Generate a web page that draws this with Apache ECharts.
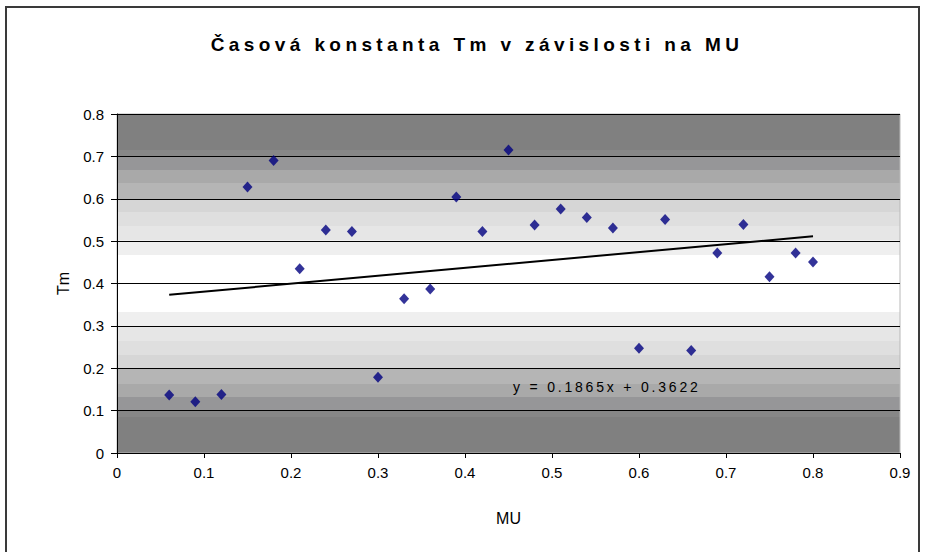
<!DOCTYPE html>
<html>
<head>
<meta charset="utf-8">
<script src="https://cdn.jsdelivr.net/npm/echarts@6/dist/echarts.min.js"></script>
<style>
  html, body { margin: 0; padding: 0; background: #fff; }
  #chart { width: 925px; height: 552px; }
</style>
</head>
<body>
<div id="chart"></div>
<script>
// MU values of the measurements
const mu = [0.06, 0.09, 0.12, 0.15, 0.18, 0.21, 0.24, 0.27, 0.30, 0.33, 0.36, 0.39, 0.42,
            0.45, 0.48, 0.51, 0.54, 0.57, 0.60, 0.63, 0.66, 0.69, 0.72, 0.75, 0.78, 0.80];
// measured time constant Tm for each MU
const tm = [0.137, 0.121, 0.138, 0.628, 0.690, 0.435, 0.526, 0.523, 0.179, 0.364, 0.387, 0.604, 0.523,
            0.715, 0.538, 0.576, 0.556, 0.531, 0.247, 0.551, 0.242, 0.472, 0.539, 0.416, 0.472, 0.451];
// linear trend  y = slope * x + intercept
const slope = 0.1865;
const intercept = 0.3622;

const titleText = 'Časová konstanta Tm v závislosti na MU';
const equationText = 'y = 0.1865x + 0.3622';

const narrow = "'Liberation Sans Narrow', 'Liberation Sans', Arial, sans-serif";
const regular = "'Liberation Sans', Arial, sans-serif";

const points = mu.map((x, i) => [x, tm[i]]);
const xFirst = Math.min(...mu);
const xLast = Math.max(...mu);
const trend = [[xFirst, slope * xFirst + intercept], [xLast, slope * xLast + intercept]];

// banded grey-white-grey plot background
const bands = [
  [0.000, '#808080'], [0.106, '#878787'], [0.127, '#969698'], [0.165, '#a9a9a9'],
  [0.205, '#b5b5b5'], [0.250, '#d6d6d6'], [0.290, '#dfdfdf'], [0.330, '#e6e6e6'],
  [0.372, '#efefef'], [0.416, '#ffffff']
];
const stops = [];
bands.forEach((b, i) => {
  const end = i < bands.length - 1 ? bands[i + 1][0] : 0.5;
  stops.push({ offset: b[0], color: b[1] }, { offset: end, color: b[1] });
});
bands.slice().reverse().forEach((b, i, arr) => {
  const start = i === 0 ? 0.5 : 1 - arr[i - 1][0];
  stops.push({ offset: start, color: b[1] }, { offset: 1 - b[0], color: b[1] });
});

const chart = echarts.init(document.getElementById('chart'), null, { renderer: 'svg' });
chart.setOption({
  animation: false,
  backgroundColor: '#ffffff',
  title: {
    text: titleText,
    left: 472,
    top: 30,
    textAlign: 'center',
    textStyle: { fontFamily: regular, fontSize: 19, fontWeight: 'bold', color: '#000' }
  },
  grid: {
    left: 117, right: 25, top: 114, bottom: 99,
    show: true,
    borderColor: '#b8b8b8',
    borderWidth: 1,
    backgroundColor: new echarts.graphic.LinearGradient(0, 0, 0, 1, stops)
  },
  xAxis: {
    type: 'value',
    min: 0, max: 0.9, interval: 0.1,
    name: 'MU',
    nameLocation: 'middle',
    nameGap: 57,
    nameTextStyle: { fontFamily: narrow, fontSize: 16, color: '#000' },
    axisLine: { show: true, onZero: false, lineStyle: { color: '#000', width: 1 } },
    axisTick: { show: true, inside: false, length: 5, lineStyle: { color: '#000' } },
    axisLabel: { margin: 12, fontFamily: narrow, fontSize: 15, color: '#000' },
    splitLine: { show: false }
  },
  yAxis: {
    type: 'value',
    min: 0, max: 0.8, interval: 0.1,
    name: 'Tm',
    nameLocation: 'middle',
    nameGap: 46,
    nameTextStyle: { fontFamily: narrow, fontSize: 16, color: '#000' },
    axisLine: { show: true, onZero: false, lineStyle: { color: '#000', width: 1 } },
    axisTick: { show: true, inside: false, length: 6, lineStyle: { color: '#000' } },
    axisLabel: { margin: 13, fontFamily: narrow, fontSize: 15, color: '#000' },
    splitLine: { show: true, lineStyle: { color: '#000', width: 1 } }
  },
  graphic: [
    {
      type: 'rect',
      shape: { x: 6, y: 7, width: 913, height: 570 },
      style: { fill: 'none', stroke: '#3a3a3a', lineWidth: 2 },
      silent: true, z: 100
    },
    {
      type: 'text',
      left: 513, top: 380,
      style: { text: equationText, fontFamily: regular, fontSize: 14, fill: '#000' },
      silent: true, z: 100
    }
  ],
  series: [
    {
      type: 'scatter',
      data: points,
      symbol: 'diamond',
      symbolSize: [10, 11],
      itemStyle: { color: '#000080' },
      z: 3
    },
    {
      type: 'line',
      data: trend,
      symbol: 'none',
      lineStyle: { color: '#000', width: 2 },
      z: 4
    }
  ]
});

// widen letter spacing of the title and the trend equation
const spacing = { [titleText]: '4.4px', [equationText]: '2.8px' };
document.querySelectorAll('#chart text').forEach(t => {
  const s = spacing[t.textContent];
  if (s) t.style.letterSpacing = s;
});
</script>
</body>
</html>
